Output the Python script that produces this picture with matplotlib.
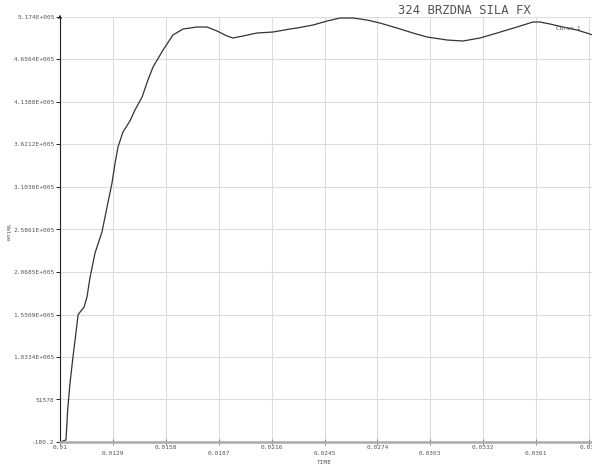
import matplotlib
matplotlib.use("Agg")
import matplotlib.pyplot as plt
import numpy as np

# curve 1
time = [0.01000, 0.01033, 0.01042, 0.01055, 0.01071, 0.01086, 0.01099, 0.01110,
        0.01132, 0.01148, 0.01164, 0.01192, 0.01230, 0.01258, 0.01285, 0.01302,
        0.01318, 0.01345, 0.01384, 0.01411, 0.01450, 0.01482, 0.01510, 0.01565,
        0.01619, 0.01674, 0.01751, 0.01806, 0.01861, 0.01916, 0.01948, 0.02003,
        0.02080, 0.02168, 0.02261, 0.02299, 0.02387, 0.02464, 0.02535, 0.02606,
        0.02683, 0.02754, 0.02847, 0.02935, 0.03012, 0.03122, 0.03209, 0.03302,
        0.03396, 0.03505, 0.03593, 0.03631, 0.03686, 0.03757, 0.03834, 0.03905,
        0.03920]
value = [-180, 2300, 38790, 71670, 103330, 130125, 154480, 158130,
         164220, 176400, 199540, 229980, 255560, 286000, 315230, 339580,
         359070, 377340, 391000, 404130, 419960, 440660, 456500, 477200,
         495460, 502770, 505210, 505210, 500330, 494250, 491810, 494250,
         497900, 499120, 502770, 503990, 507640, 512510, 516170, 516170,
         513730, 510080, 503990, 497900, 493030, 489380, 488160, 491810,
         497900, 505210, 511300, 511300, 508860, 505210, 501550, 496680,
         495500]

x_ticks = [0.01, 0.0129, 0.0158, 0.0187, 0.0216, 0.0245, 0.0274, 0.0303,
           0.0332, 0.0361, 0.039]
x_labels = ["0.01", "0.0129", "0.0158", "0.0187", "0.0216", "0.0245", "0.0274",
            "0.0303", "0.0332", "0.0361", "0.039"]
y_min, y_max = -180.2, 517400
y_labels = ["-180.2", "51578", "1.0334E+005", "1.5509E+005", "2.0685E+005",
            "2.5861E+005", "3.1036E+005", "3.6212E+005", "4.1388E+005",
            "4.6564E+005", "5.174E+005"]

mono = "DejaVu Sans Mono"
W, H = 592, 465
fig = plt.figure(figsize=(W / 100, H / 100), dpi=100)
ax = fig.add_axes([60 / W, 23 / H, 1 - 60 / W, (442 - 17) / H])

ax.plot(time, value, color="#333333", lw=0.9)

ax.set_xlim(0.01, 0.01 + (W - 60) * 0.0029 / 52.9)
ax.set_ylim(y_min, y_max)

ax.set_xticks(x_ticks)
ax.set_xticklabels([])
ax.set_yticks(np.linspace(y_min, y_max, 11))
ax.set_yticklabels(y_labels, fontsize=4.4, family=mono, color="#555555")
ax.tick_params(axis="y", length=3, width=0.6, pad=0.8)
ax.tick_params(axis="x", direction="inout", length=5, width=0.6, colors="#777777")

ax.grid(True, color="#dddddd", lw=0.8)
ax.set_axisbelow(True)
for s in ("top", "right"):
    ax.spines[s].set_visible(False)
ax.spines["left"].set_color("#222222")
ax.spines["left"].set_linewidth(0.8)
ax.spines["bottom"].set_color("#aaaaaa")
ax.spines["bottom"].set_linewidth(1.8)

# alternating x labels, like the original plotter
for i, (xt, lab) in enumerate(zip(x_ticks, x_labels)):
    off = -5 if i % 2 == 0 else -11
    ax.annotate(lab, xy=(xt, 0), xycoords=("data", "axes fraction"),
                xytext=(0, off), textcoords="offset pixels",
                ha="center", va="center", fontsize=4.4, family=mono,
                color="#555555", annotation_clip=False)

ax.annotate("TIME", xy=(0.0245, 0), xycoords=("data", "axes fraction"),
            xytext=(0, -20), textcoords="offset pixels", ha="center",
            va="center", fontsize=4.4, family=mono, color="#555555",
            annotation_clip=False)

fig.text(7 / W, 1 - 233 / H, "Value", rotation=-90, ha="center", va="center",
         fontsize=4.2, family=mono, color="#555555")

ax.annotate("", xy=(0, 1.012), xytext=(0, 0.99), xycoords="axes fraction",
            arrowprops=dict(arrowstyle="->", lw=0.7, color="#222222",
                            mutation_scale=5), annotation_clip=False)

fig.text(464 / W, 1 - 10 / H, "324 BRZDNA SILA FX", ha="center", va="center",
         fontsize=8.8, family=mono, color="#555555")
fig.text(568 / W, 1 - 28 / H, "Curve 1", ha="center", va="center",
         fontsize=4.2, family=mono, color="#555555")

fig.savefig("out.png", dpi=100)
